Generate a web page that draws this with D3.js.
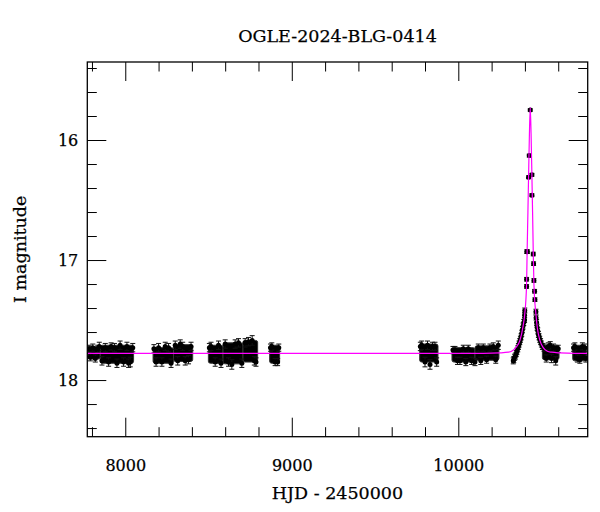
<!DOCTYPE html>
<html>
<head>
<meta charset="utf-8">
<script src="https://cdn.jsdelivr.net/npm/d3@7"></script>
<style>
  body { margin: 0; background: #fff; }
  svg text { font-family: "DejaVu Serif", serif; fill: #000; stroke: #000; stroke-width: 0.25px; }
</style>
</head>
<body>
<svg id="chart" width="600" height="512"></svg>
<script>

const title = 'OGLE-2024-BLG-0414'
const xLabel = 'HJD - 2450000'
const yLabel = 'I magnitude'

const xMajor = [8000, 9000, 10000]
const xMinor = [7800, 8200, 8400, 8600, 8800, 9200, 9400, 9600, 9800, 10200, 10400, 10600]
const yMajor = [16, 17, 18]
const yMinor = [15.4, 15.6, 15.8, 16.2, 16.4, 16.6, 16.8, 17.2, 17.4, 17.6, 17.8, 18.2, 18.4]

// dense baseline seasons, read as envelopes: [tStart, tEnd, magTop, magBottom]
const seasons = [
    [7776, 7850, 17.72, 17.825],
    [7850, 8050, 17.71, 17.86],
    [8167, 8290, 17.73, 17.86],
    [8290, 8405, 17.705, 17.845],
    [8499, 8587, 17.71, 17.86],
    [8587, 8707, 17.69, 17.865],
    [8707, 8795, 17.67, 17.85],
    [8867, 8927, 17.71, 17.86],
    [9768, 9878, 17.70, 17.85],
    [9962, 10100, 17.73, 17.85],
    [10100, 10244, 17.715, 17.835],
    [10505, 10605, 17.71, 17.83],
    [10687, 10769, 17.71, 17.84]
]

// single points with error bars on the ragged edges of the seasons: [t, mag, err]
const edgePoints = [
    [7782, 17.74, 0.03], [7790, 17.81, 0.03], [7805, 17.73, 0.03], [7820, 17.82, 0.03],
    [7835, 17.74, 0.03], [7844, 17.72, 0.035], [7860, 17.84, 0.035], [7880, 17.73, 0.035],
    [7900, 17.85, 0.035], [7915, 17.72, 0.03], [7935, 17.73, 0.035], [7950, 17.86, 0.035],
    [7969, 17.71, 0.035], [7990, 17.85, 0.035], [8010, 17.72, 0.035], [8020, 17.86, 0.035],
    [8030, 17.85, 0.04], [8045, 17.73, 0.035],
    [8172, 17.74, 0.035], [8185, 17.85, 0.035], [8200, 17.73, 0.035], [8220, 17.85, 0.035],
    [8240, 17.72, 0.035], [8260, 17.73, 0.035], [8275, 17.86, 0.035], [8300, 17.71, 0.035],
    [8315, 17.84, 0.035], [8330, 17.70, 0.035], [8345, 17.72, 0.035], [8360, 17.84, 0.035],
    [8380, 17.83, 0.035], [8395, 17.72, 0.035],
    [8505, 17.73, 0.035], [8515, 17.72, 0.035], [8540, 17.85, 0.035], [8560, 17.71, 0.035],
    [8575, 17.86, 0.035], [8600, 17.70, 0.035], [8620, 17.85, 0.035], [8640, 17.87, 0.04],
    [8660, 17.70, 0.035], [8680, 17.69, 0.035], [8700, 17.86, 0.035], [8720, 17.69, 0.035],
    [8740, 17.68, 0.035], [8762, 17.67, 0.04], [8775, 17.84, 0.035], [8785, 17.85, 0.035],
    [8872, 17.73, 0.03], [8880, 17.72, 0.03], [8900, 17.85, 0.03], [8915, 17.85, 0.03],
    [8922, 17.73, 0.03],
    [9772, 17.72, 0.035], [9780, 17.71, 0.035], [9800, 17.85, 0.04], [9815, 17.71, 0.035],
    [9830, 17.87, 0.04], [9845, 17.72, 0.035], [9860, 17.72, 0.035], [9870, 17.85, 0.035],
    [9968, 17.75, 0.03], [9980, 17.75, 0.03], [9995, 17.84, 0.03], [10010, 17.84, 0.03],
    [10030, 17.74, 0.03], [10045, 17.85, 0.03], [10060, 17.74, 0.03], [10080, 17.84, 0.03],
    [10100, 17.85, 0.03], [10120, 17.73, 0.03], [10135, 17.84, 0.03], [10150, 17.73, 0.03],
    [10170, 17.83, 0.03], [10190, 17.73, 0.03], [10210, 17.72, 0.03], [10225, 17.83, 0.03],
    [10240, 17.71, 0.035],
    [10515, 17.73, 0.03], [10528, 17.82, 0.03], [10540, 17.72, 0.03], [10552, 17.71, 0.03],
    [10560, 17.82, 0.035], [10572, 17.73, 0.03], [10585, 17.84, 0.035], [10600, 17.74, 0.03],
    [10692, 17.73, 0.03], [10700, 17.72, 0.03], [10715, 17.82, 0.03], [10730, 17.83, 0.03],
    [10745, 17.72, 0.03], [10760, 17.73, 0.03], [10766, 17.82, 0.03]
]

// rise, peak and decline of the event
const eventPoints = [
    [10330, 17.84, 0.025], [10333, 17.83, 0.025], [10338, 17.81, 0.025], [10343, 17.80, 0.025],
    [10348, 17.78, 0.025], [10352, 17.76, 0.025], [10357, 17.74, 0.025], [10361, 17.72, 0.025],
    [10365, 17.70, 0.025], [10369, 17.68, 0.025], [10373, 17.66, 0.025], [10377, 17.64, 0.025],
    [10381, 17.61, 0.025], [10385, 17.58, 0.025], [10389, 17.55, 0.025], [10393, 17.52, 0.025],
    [10398, 17.50, 0.02], [10398, 17.46, 0.02], [10399, 17.42, 0.02],
    [10410, 17.22, 0.015], [10410, 17.16, 0.015], [10411, 16.93, 0.015], [10415, 16.93, 0.015],
    [10422, 16.31, 0.012], [10426, 16.13, 0.012], [10432, 15.75, 0.01],
    [10442, 16.29, 0.012], [10442, 16.46, 0.012],
    [10450, 16.95, 0.015], [10452, 17.03, 0.015], [10454, 17.17, 0.015], [10458, 17.26, 0.015],
    [10460, 17.33, 0.015], [10466, 17.43, 0.02], [10467, 17.48, 0.02],
    [10470, 17.52, 0.025], [10473, 17.56, 0.025], [10477, 17.59, 0.025], [10481, 17.62, 0.025],
    [10485, 17.64, 0.025], [10489, 17.66, 0.025], [10494, 17.68, 0.025], [10499, 17.70, 0.025],
    [10505, 17.72, 0.025]
]

// model light curve: [t, mag]
const model = [
    [7772, 17.778], [10150, 17.778], [10250, 17.774], [10300, 17.768], [10320, 17.76],
    [10345, 17.73], [10370, 17.67], [10389, 17.55], [10399, 17.45], [10410, 17.2],
    [10413, 16.95], [10418, 16.6], [10422, 16.3], [10427, 15.95], [10432, 15.73],
    [10437, 15.95], [10442, 16.3], [10446, 16.6], [10450, 16.93], [10454, 17.2],
    [10466, 17.45], [10474, 17.56], [10490, 17.67], [10510, 17.73], [10535, 17.76],
    [10560, 17.768], [10610, 17.774], [10700, 17.778], [10777, 17.778]
]

const svg = d3.select('#chart')

const pLeft = 87.3, pRight = 587.7, pTop = 62, pBottom = 436.7

const x = d3.scaleLinear().domain([7772, 10777]).range([pLeft, pRight])
const y = d3.scaleLinear().domain([15.35, 18.472]).range([pTop, pBottom])

svg.append('defs').append('clipPath').attr('id', 'clip')
    .append('rect')
    .attr('x', pLeft).attr('y', pTop)
    .attr('width', pRight - pLeft).attr('height', pBottom - pTop)

const plot = svg.append('g').attr('clip-path', 'url(#clip)')

// season blobs
plot.append('g').selectAll('rect').data(seasons).enter()
    .append('rect')
    .attr('x', d => x(d[0]))
    .attr('y', d => y(d[2]))
    .attr('width', d => x(d[1]) - x(d[0]))
    .attr('height', d => y(d[3]) - y(d[2]))
    .attr('rx', 2)
    .attr('fill', '#000')
    .attr('stroke', '#333')
    .attr('stroke-width', 1)

const allPoints = edgePoints.concat(eventPoints)

const bars = plot.append('g').attr('stroke', '#111').attr('stroke-width', 1)

bars.selectAll('line.bar').data(allPoints).enter()
    .append('line').attr('class', 'bar')
    .attr('x1', d => x(d[0])).attr('x2', d => x(d[0]))
    .attr('y1', d => y(d[1] - d[2])).attr('y2', d => y(d[1] + d[2]))

bars.selectAll('line.capTop').data(allPoints).enter()
    .append('line').attr('class', 'capTop')
    .attr('x1', d => x(d[0]) - 2.5).attr('x2', d => x(d[0]) + 2.5)
    .attr('y1', d => y(d[1] - d[2])).attr('y2', d => y(d[1] - d[2]))

bars.selectAll('line.capBot').data(allPoints).enter()
    .append('line').attr('class', 'capBot')
    .attr('x1', d => x(d[0]) - 2.5).attr('x2', d => x(d[0]) + 2.5)
    .attr('y1', d => y(d[1] + d[2])).attr('y2', d => y(d[1] + d[2]))

plot.append('g').selectAll('circle').data(allPoints).enter()
    .append('circle')
    .attr('cx', d => x(d[0]))
    .attr('cy', d => y(d[1]))
    .attr('r', 2.5)
    .attr('fill', '#000')

// model on top of the data
const line = d3.line().x(d => x(d[0])).y(d => y(d[1])).curve(d3.curveMonotoneX)

plot.append('path')
    .datum(model)
    .attr('fill', 'none')
    .attr('stroke', '#ff00ff')
    .attr('stroke-width', 1.2)
    .attr('d', line)

// axes, ticks pointing inward on all four sides
function styleAxis (g) {
    g.select('.domain').remove()
    g.selectAll('.tick line').attr('stroke', '#000').attr('stroke-width', 1)
    g.selectAll('.tick text').attr('font-size', 16).attr('font-family', '"DejaVu Serif", serif')
}

svg.append('g').attr('transform', `translate(0,${pBottom})`)
    .call(d3.axisBottom(x).tickValues(xMajor).tickSize(-19).tickPadding(22.6).tickFormat(d3.format('d')))
    .call(styleAxis)
svg.append('g').attr('transform', `translate(0,${pBottom})`)
    .call(d3.axisBottom(x).tickValues(xMinor).tickSize(-9.5).tickFormat(''))
    .call(styleAxis)
svg.append('g').attr('transform', `translate(0,${pTop})`)
    .call(d3.axisTop(x).tickValues(xMajor).tickSize(-19).tickFormat(''))
    .call(styleAxis)
svg.append('g').attr('transform', `translate(0,${pTop})`)
    .call(d3.axisTop(x).tickValues(xMinor).tickSize(-9.5).tickFormat(''))
    .call(styleAxis)

svg.append('g').attr('transform', `translate(${pLeft},0)`)
    .call(d3.axisLeft(y).tickValues(yMajor).tickSize(-19).tickPadding(9).tickFormat(d3.format('d')))
    .call(styleAxis)
svg.append('g').attr('transform', `translate(${pLeft},0)`)
    .call(d3.axisLeft(y).tickValues(yMinor).tickSize(-9.5).tickFormat(''))
    .call(styleAxis)
svg.append('g').attr('transform', `translate(${pRight},0)`)
    .call(d3.axisRight(y).tickValues(yMajor).tickSize(-19).tickFormat(''))
    .call(styleAxis)
svg.append('g').attr('transform', `translate(${pRight},0)`)
    .call(d3.axisRight(y).tickValues(yMinor).tickSize(-9.5).tickFormat(''))
    .call(styleAxis)

svg.append('rect')
    .attr('x', pLeft).attr('y', pTop)
    .attr('width', pRight - pLeft).attr('height', pBottom - pTop)
    .attr('fill', 'none')
    .attr('stroke', '#000')
    .attr('stroke-width', 1.3)

// labels
svg.append('text')
    .attr('x', (pLeft + pRight) / 2).attr('y', 41.5)
    .attr('text-anchor', 'middle')
    .attr('font-size', 17.5)
    .text(title)

svg.append('text')
    .attr('x', (pLeft + pRight) / 2).attr('y', 499)
    .attr('text-anchor', 'middle')
    .attr('font-size', 17.5)
    .text(xLabel)

svg.append('text')
    .attr('transform', `translate(26,${(pTop + pBottom) / 2}) rotate(-90)`)
    .attr('text-anchor', 'middle')
    .attr('font-size', 17.5)
    .text(yLabel)

</script>
</body>
</html>
